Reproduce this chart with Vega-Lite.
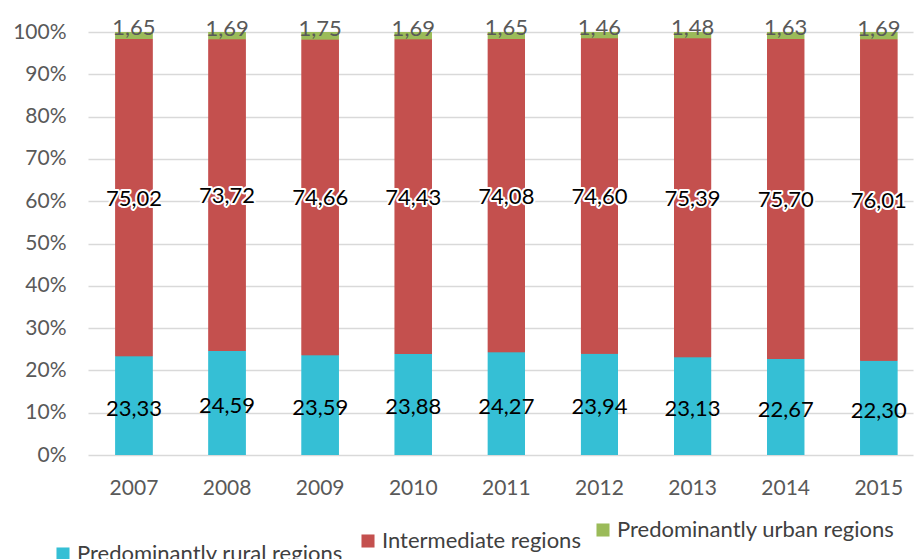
{
  "$schema": "https://vega.github.io/schema/vega-lite/v6.json",
  "width": 825,
  "height": 423,
  "autosize": {"type": "none"},
  "padding": {"left": 88, "top": 32, "right": 3, "bottom": 104},
  "config": {
    "locale": {"number": {"decimal": ",", "thousands": ".", "grouping": [3], "currency": ["", " €"]}},
    "view": {"stroke": null},
    "font": "Lato"
  },
  "data": {
    "values": [
      {"year": "2007", "Predominantly rural regions": 23.33, "Intermediate regions": 75.02, "Predominantly urban regions": 1.65},
      {"year": "2008", "Predominantly rural regions": 24.59, "Intermediate regions": 73.72, "Predominantly urban regions": 1.69},
      {"year": "2009", "Predominantly rural regions": 23.59, "Intermediate regions": 74.66, "Predominantly urban regions": 1.75},
      {"year": "2010", "Predominantly rural regions": 23.88, "Intermediate regions": 74.43, "Predominantly urban regions": 1.69},
      {"year": "2011", "Predominantly rural regions": 24.27, "Intermediate regions": 74.08, "Predominantly urban regions": 1.65},
      {"year": "2012", "Predominantly rural regions": 23.94, "Intermediate regions": 74.60, "Predominantly urban regions": 1.46},
      {"year": "2013", "Predominantly rural regions": 23.13, "Intermediate regions": 75.39, "Predominantly urban regions": 1.48},
      {"year": "2014", "Predominantly rural regions": 22.67, "Intermediate regions": 75.70, "Predominantly urban regions": 1.63},
      {"year": "2015", "Predominantly rural regions": 22.30, "Intermediate regions": 76.01, "Predominantly urban regions": 1.69}
    ]
  },
  "transform": [
    {"fold": ["Predominantly rural regions", "Intermediate regions", "Predominantly urban regions"], "as": ["region", "value"]},
    {"stack": "value", "groupby": ["year"], "offset": "normalize", "as": ["y0", "y1"]}
  ],
  "encoding": {
    "x": {
      "field": "year", "type": "ordinal", "title": null,
      "scale": {"paddingInner": 0.6026, "paddingOuter": 0.2318, "align": 0.636},
      "axis": {"labelAngle": 0, "ticks": false, "domain": false, "labelPadding": 22, "labelFontSize": 21, "labelColor": "#595959", "labelFont": "Lato"}
    }
  },
  "layer": [
    {
      "mark": {"type": "bar"},
      "encoding": {
        "y": {
          "field": "y0", "type": "quantitative", "title": null,
          "scale": {"domain": [0, 1], "nice": false},
          "axis": {"values": [0, 0.1, 0.2, 0.3, 0.4, 0.5, 0.6, 0.7, 0.8, 0.9, 1], "format": ".0%", "ticks": false, "domain": false, "labelPadding": 22, "labelFontSize": 21, "labelColor": "#595959", "labelFont": "Lato", "gridColor": "#d9d9d9", "gridWidth": 1.5}
        },
        "y2": {"field": "y1"},
        "color": {
          "field": "region", "type": "nominal",
          "scale": {"domain": ["Predominantly rural regions", "Intermediate regions", "Predominantly urban regions"], "range": ["#35BFD5", "#C4504E", "#9BBB59"]},
          "legend": {"values": ["Predominantly rural regions"], "orient": "none", "legendX": -36, "legendY": 511, "title": null, "symbolType": "square", "symbolSize": 170, "symbolStrokeWidth": 0, "labelFontSize": 22, "labelFont": "Lato", "labelColor": "#404040", "labelOffset": 3, "labelLimit": 400}
        }
      }
    },
    {
      "mark": {"type": "bar"},
      "encoding": {
        "y": {"field": "y0", "type": "quantitative"},
        "y2": {"field": "y1"},
        "color": {
          "field": "region", "type": "nominal",
          "scale": {"domain": ["Predominantly rural regions", "Intermediate regions", "Predominantly urban regions"], "range": ["#35BFD5", "#C4504E", "#9BBB59"]},
          "legend": {"values": ["Intermediate regions"], "orient": "none", "legendX": 269, "legendY": 498, "title": null, "symbolType": "square", "symbolSize": 170, "symbolStrokeWidth": 0, "labelFontSize": 22, "labelFont": "Lato", "labelColor": "#404040", "labelOffset": 3, "labelLimit": 400}
        }
      }
    },
    {
      "mark": {"type": "bar"},
      "encoding": {
        "y": {"field": "y0", "type": "quantitative"},
        "y2": {"field": "y1"},
        "color": {
          "field": "region", "type": "nominal",
          "scale": {"domain": ["Predominantly rural regions", "Intermediate regions", "Predominantly urban regions"], "range": ["#35BFD5", "#C4504E", "#9BBB59"]},
          "legend": {"values": ["Predominantly urban regions"], "orient": "none", "legendX": 504, "legendY": 487, "title": null, "symbolType": "square", "symbolSize": 170, "symbolStrokeWidth": 0, "labelFontSize": 22, "labelFont": "Lato", "labelColor": "#404040", "labelOffset": 3, "labelLimit": 400}
        }
      }
    },
    {
      "transform": [
        {"filter": "datum.region == 'Predominantly rural regions'"},
        {"fold": ["y0", "y1"], "as": ["edge", "pos"]},
        {"aggregate": [{"op": "mean", "field": "pos", "as": "mid"}], "groupby": ["year", "region", "value"]}
      ],
      "mark": {"type": "text", "fontSize": 22, "font": "Lato", "color": "#000000", "baseline": "middle", "dy": 3},
      "encoding": {
        "y": {"field": "mid", "type": "quantitative"},
        "text": {"field": "value", "type": "quantitative", "format": ".2f"}
      }
    },
    {
      "transform": [
        {"filter": "datum.region == 'Intermediate regions'"},
        {"fold": ["y0", "y1"], "as": ["edge", "pos"]},
        {"aggregate": [{"op": "mean", "field": "pos", "as": "mid"}], "groupby": ["year", "region", "value"]}
      ],
      "mark": {"type": "text", "fontSize": 22, "font": "Lato", "fill": "#ffffff", "stroke": "#ffffff", "strokeWidth": 4, "strokeJoin": "round", "baseline": "middle", "dy": 1},
      "encoding": {
        "y": {"field": "mid", "type": "quantitative"},
        "text": {"field": "value", "type": "quantitative", "format": ".2f"}
      }
    },
    {
      "transform": [
        {"filter": "datum.region == 'Intermediate regions'"},
        {"fold": ["y0", "y1"], "as": ["edge", "pos"]},
        {"aggregate": [{"op": "mean", "field": "pos", "as": "mid"}], "groupby": ["year", "region", "value"]}
      ],
      "mark": {"type": "text", "fontSize": 22, "font": "Lato", "color": "#000000", "baseline": "middle", "dy": 1},
      "encoding": {
        "y": {"field": "mid", "type": "quantitative"},
        "text": {"field": "value", "type": "quantitative", "format": ".2f"}
      }
    },
    {
      "transform": [
        {"filter": "datum.region == 'Predominantly urban regions'"},
        {"fold": ["y0", "y1"], "as": ["edge", "pos"]},
        {"aggregate": [{"op": "mean", "field": "pos", "as": "mid"}], "groupby": ["year", "region", "value"]}
      ],
      "mark": {"type": "text", "fontSize": 22, "font": "Lato", "color": "#595959", "baseline": "middle", "dy": -7},
      "encoding": {
        "y": {"field": "mid", "type": "quantitative"},
        "text": {"field": "value", "type": "quantitative", "format": ".2f"}
      }
    }
  ],
  "resolve": {"scale": {"color": "independent"}, "legend": {"color": "independent"}}
}
